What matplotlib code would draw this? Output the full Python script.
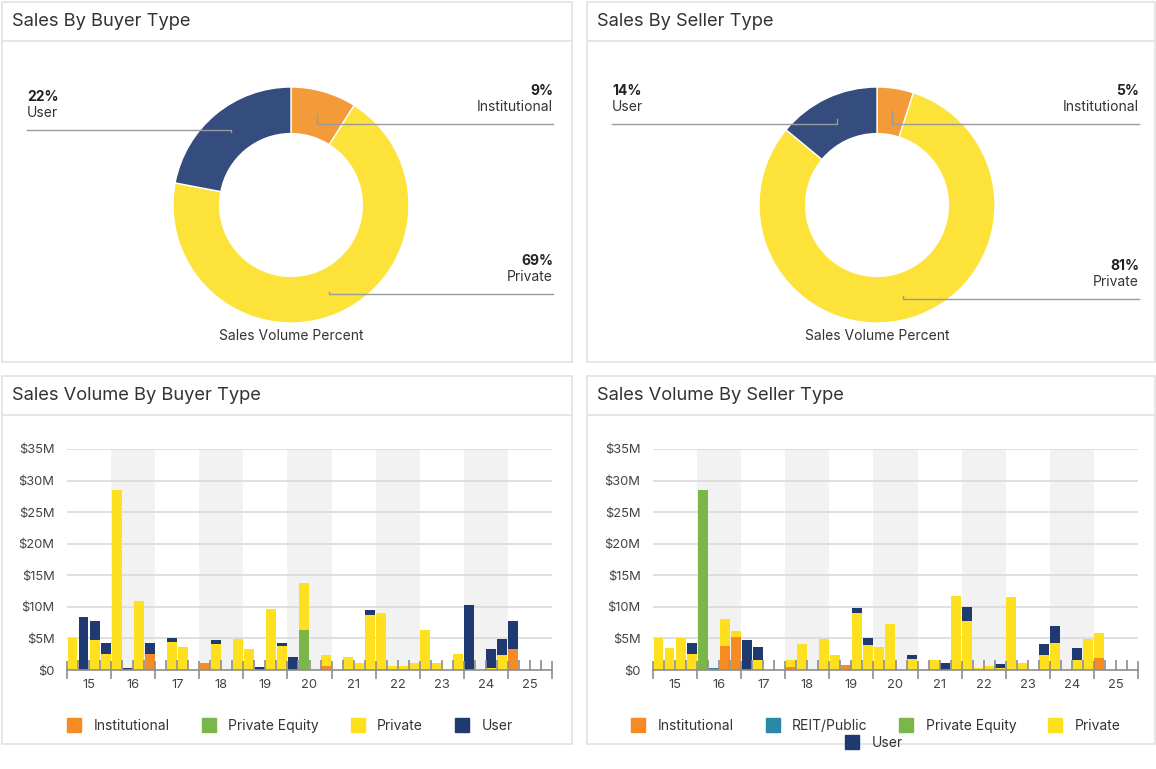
"""Sales by buyer / seller type dashboard: two donuts and two stacked quarterly bar charts."""

import numpy as np
import matplotlib.pyplot as plt
from matplotlib.lines import Line2D
from matplotlib.patches import Rectangle

plt.rcParams['font.family'] = ['Inter', 'DejaVu Sans']

W, H = 1156, 769
TEXT = '#333333'
GRID = '#DADADA'
AXIS = '#8E8E8E'

# --- donut data (% of sales volume) ---
donut_labels = ['Institutional', 'Private', 'User']
buyer_share = [9, 69, 22]
seller_share = [5, 81, 14]
donut_colors = ['#F29B38', '#FDE23A', '#344D7E']

# --- quarterly sales volume ($M), 2015 Q1 .. 2025 Q4 ---
years = ['15', '16', '17', '18', '19', '20', '21', '22', '23', '24', '25']

buyer_institutional = [
    0, 0, 0, 0,  0, 0, 0, 2.5,  0, 0, 0, 0,  1.05, 0, 0, 0,
    0, 0, 0, 0,  0, 0, 0, 0.6,  0, 0, 0, 0,  0, 0, 0, 0,
    0, 0, 0, 0,  0, 0, 0, 0,  3.3, 0, 0, 0]
buyer_private_equity = [
    0, 0, 0, 0,  0, 0, 0, 0,  0, 0, 0, 0,  0, 0, 0, 0,
    0, 0, 0, 0,  0, 6.3, 0, 0,  0, 0, 0, 0,  0, 0, 0, 0,
    0, 0, 0, 0,  0, 0, 0, 0,  0, 0, 0, 0]
buyer_private = [
    5.0, 0, 4.8, 2.5,  28.5, 0, 11.0, 0,  0, 4.5, 3.6, 0,  0, 4.1, 0, 4.9,
    3.3, 0, 9.6, 3.8,  0, 7.4, 0, 1.7,  0, 2.1, 1.05, 8.7,  9.0, 0.6, 0.6, 1.05,
    6.3, 1.05, 0, 2.5,  0, 0, 0.3, 2.3,  0, 0, 0, 0]
buyer_user = [
    0, 8.4, 2.9, 1.7,  0, 0.3, 0, 1.7,  0, 0.5, 0, 0,  0, 0.6, 0, 0,
    0, 0.4, 0, 0.5,  2.1, 0, 0, 0,  0, 0, 0, 0.8,  0, 0, 0, 0,
    0, 0, 0, 0,  10.3, 0, 3.1, 2.6,  4.5, 0, 0, 0]

seller_institutional = [
    0, 0, 0, 0,  0, 0, 3.8, 5.3,  0, 0, 0, 0,  0.5, 0, 0, 0,
    0, 0.8, 0, 0,  0, 0, 0, 0,  0, 0, 0, 0,  0, 0, 0, 0,
    0, 0, 0, 0,  0, 0, 0, 0,  1.85, 0, 0, 0]
seller_reit = [
    0, 0, 0, 0,  0, 0.3, 0, 0,  0, 0, 0, 0,  0, 0, 0, 0,
    0, 0, 0, 0,  0, 0, 0, 0,  0, 0, 0, 0,  0, 0, 0, 0,
    0, 0, 0, 0,  0, 0, 0, 0,  0, 0, 0, 0]
seller_private_equity = [
    0, 0, 0, 0,  28.5, 0, 0, 0,  0, 0, 0, 0,  0, 0, 0, 0,
    0, 0, 0, 0,  0, 0, 0, 0,  0, 0, 0, 0,  0, 0, 0, 0,
    0, 0, 0, 0,  0, 0, 0, 0,  0, 0, 0, 0]
seller_private = [
    5.0, 3.5, 5.0, 2.5,  0, 0, 4.2, 0.9,  0, 1.6, 0, 0,  1.1, 4.1, 0, 4.9,
    2.3, 0, 9.1, 4.0,  3.7, 7.3, 0, 1.7,  0, 1.6, 0, 11.7,  7.8, 0.3, 0.6, 0.3,
    11.5, 1.05, 0, 2.4,  4.3, 0, 1.6, 4.9,  3.95, 0, 0, 0]
seller_user = [
    0, 0, 0, 1.7,  0, 0, 0, 0,  4.7, 2.0, 0, 0,  0, 0, 0, 0,
    0, 0, 0.65, 1.0,  0, 0, 0, 0.6,  0, 0, 1.05, 0,  2.2, 0, 0, 0.6,
    0, 0, 0, 1.7,  2.6, 0, 1.9, 0,  0, 0, 0, 0]

C_INST, C_REIT, C_PE, C_PRIV, C_USER = '#F58B22', '#2A88A8', '#7AB648', '#FFE01F', '#1F3A70'

y_ticks = [0, 5, 10, 15, 20, 25, 30, 35]
y_tick_labels = ['$0', '$5M', '$10M', '$15M', '$20M', '$25M', '$30M', '$35M']


def px_box(x, y, w, h):
    """Axes rectangle from pixel coordinates measured from the top-left."""
    return [x / W, 1 - (y + h) / H, w / W, h / H]


fig = plt.figure(figsize=(W / 100, H / 100), dpi=100)
fig.patch.set_facecolor('white')

# pixel-space layers: one under everything, one over the donuts
bg = fig.add_axes([0, 0, 1, 1], zorder=0)
top = fig.add_axes([0, 0, 1, 1], zorder=10)
for a in (bg, top):
    a.set_xlim(0, W)
    a.set_ylim(H, 0)
    a.axis('off')
    a.patch.set_alpha(0)

panels = [
    (2, 2, 570, 360, 'Sales By Buyer Type'),
    (587, 2, 568, 360, 'Sales By Seller Type'),
    (2, 376, 570, 368, 'Sales Volume By Buyer Type'),
    (587, 376, 568, 368, 'Sales Volume By Seller Type'),
]
for x, y, w, h, title in panels:
    bg.add_patch(Rectangle((x, y), w, h, fill=False, ec='#E4E4E4', lw=1.3))
    bg.plot([x, x + w], [y + 39, y + 39], color='#E4E4E4', lw=1.3)
    bg.text(x + 10, y + 20, title, fontsize=13.2, color=TEXT, va='center')


def draw_donut(cx, cy, shares, placement, x_left, x_right):
    R = 118
    ring = 0.395
    ax = fig.add_axes(px_box(cx - R, cy - R, 2 * R, 2 * R), zorder=5)
    wedges, _ = ax.pie(shares, colors=donut_colors, startangle=90, counterclock=False,
                       radius=1, wedgeprops=dict(width=ring, edgecolor='white', linewidth=1))
    ax.set_xlim(-1, 1)
    ax.set_ylim(-1, 1)
    ax.set_aspect('equal')
    ax.axis('off')

    inv = top.transData.inverted()
    for wdg, share, label, (side, line_y) in zip(wedges, shares, donut_labels, placement):
        ang = np.deg2rad((wdg.theta1 + wdg.theta2) / 2)
        r = 1 - ring / 2
        px, py = inv.transform(ax.transData.transform((r * np.cos(ang), r * np.sin(ang))))
        edge = x_left if side == 'left' else x_right
        top.plot([px, px, edge], [py, line_y, line_y], color='#9A9A9A', lw=1)
        ha = 'left' if side == 'left' else 'right'
        top.text(edge, line_y - 33, f'{share}%', ha=ha, va='center',
                 fontsize=10, fontweight='bold', color='#222222')
        top.text(edge, line_y - 17, label, ha=ha, va='center', fontsize=10, color=TEXT)

    top.text(cx, 336, 'Sales Volume Percent', ha='center', va='center', fontsize=10, color=TEXT)


draw_donut(291, 205, buyer_share,
           [('right', 124), ('right', 294), ('left', 130)], 27, 553)
draw_donut(877, 205, seller_share,
           [('right', 124), ('right', 299), ('left', 124)], 612, 1139)


def draw_bars(x0, series, colors):
    ax = fig.add_axes(px_box(x0, 449, 485, 221), zorder=3)
    n = len(series[0])
    q = np.arange(n)
    bottom = np.zeros(n)
    for vals, c in zip(series, colors):
        vals = np.asarray(vals, dtype=float)
        ax.bar(q + 0.5, vals, width=0.9, bottom=bottom, color=c, zorder=2)
        bottom += vals

    # alternate-year shading
    for k in range(1, len(years), 2):
        ax.axvspan(4 * k, 4 * k + 4, color='#F2F2F2', zorder=0, lw=0)
    for yv in y_ticks[1:]:
        ax.axhline(yv, color=GRID, lw=1.2, zorder=0.5)

    ax.set_xlim(0, n)
    ax.set_ylim(0, 35)
    ax.set_yticks(y_ticks)
    ax.set_yticklabels(y_tick_labels)
    ax.tick_params(axis='y', length=0, pad=9, labelsize=9.3, labelcolor='#444444')

    ax.set_xticks(np.arange(0, n + 1, 4))
    ax.set_xticks(np.arange(0, n + 1), minor=True)
    ax.set_xticklabels([])
    ax.tick_params(axis='x', which='major', direction='inout', length=13, width=1.2, color=AXIS)
    ax.tick_params(axis='x', which='minor', direction='in', length=7, width=1.2, color=AXIS)
    for k, yr in enumerate(years):
        ax.text(4 * k + 2, -0.068, yr, transform=ax.get_xaxis_transform(),
                ha='center', va='center', fontsize=9.3, color='#444444')

    for s in ('top', 'right', 'left'):
        ax.spines[s].set_visible(False)
    ax.spines['bottom'].set_color(AXIS)
    ax.spines['bottom'].set_linewidth(1.2)
    ax.patch.set_alpha(0)
    ax.set_axisbelow(False)
    return ax


def legend_handles(labels, colors):
    return [Line2D([], [], ls='none', marker='s', ms=10.5, mfc=c, mec=c, label=l)
            for l, c in zip(labels, colors)]


leg_kw = dict(loc='center', bbox_transform=fig.transFigure, frameon=False, fontsize=10,
              handlelength=1.0, handletextpad=0.9, columnspacing=2.3, labelcolor=TEXT)

ax_b = draw_bars(67, [buyer_institutional, buyer_private_equity, buyer_private, buyer_user],
                 [C_INST, C_PE, C_PRIV, C_USER])
ax_b.legend(handles=legend_handles(['Institutional', 'Private Equity', 'Private', 'User'],
                                   [C_INST, C_PE, C_PRIV, C_USER]),
            bbox_to_anchor=(290 / W, 1 - 726 / H), ncol=4, **leg_kw)

ax_s = draw_bars(653, [seller_institutional, seller_reit, seller_private_equity,
                       seller_private, seller_user],
                 [C_INST, C_REIT, C_PE, C_PRIV, C_USER])
leg1 = ax_s.legend(handles=legend_handles(['Institutional', 'REIT/Public', 'Private Equity', 'Private'],
                                          [C_INST, C_REIT, C_PE, C_PRIV]),
                   bbox_to_anchor=(876 / W, 1 - 726 / H), ncol=4, **leg_kw)
ax_s.add_artist(leg1)
ax_s.legend(handles=legend_handles(['User'], [C_USER]),
            bbox_to_anchor=(874 / W, 1 - 743 / H), ncol=1, **leg_kw)

fig.savefig('out.png', dpi=100)
